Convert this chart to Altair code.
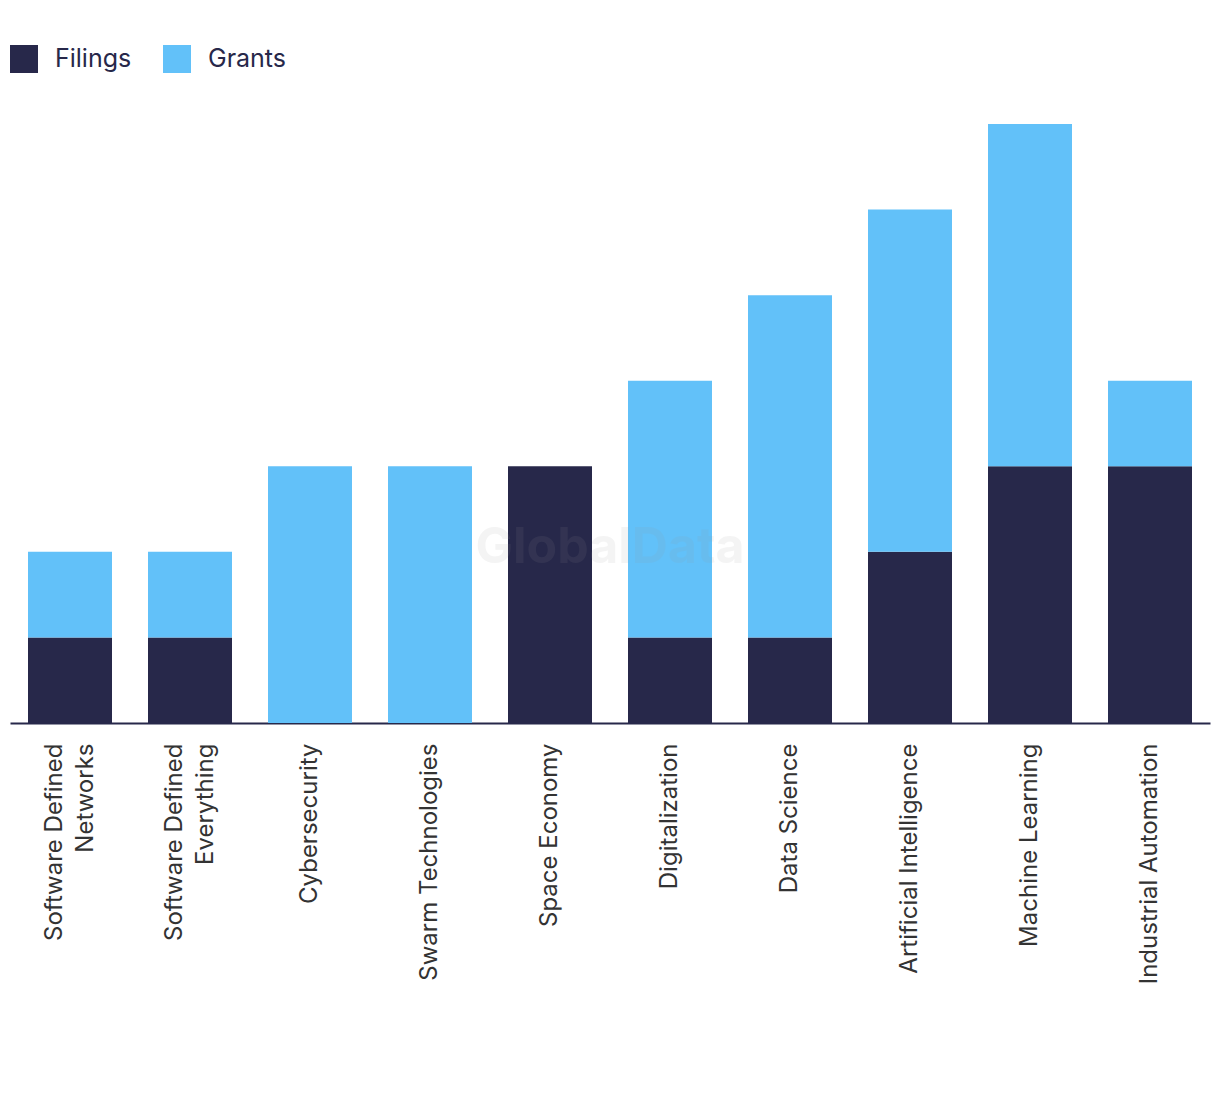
import altair as alt
import pandas as pd

categories = ["Software Defined\nNetworks", "Software Defined\nEverything", "Cybersecurity",
              "Swarm Technologies", "Space Economy", "Digitalization", "Data Science",
              "Artificial Intelligence", "Machine Learning", "Industrial Automation"]
filings = [1, 1, 0, 0, 3, 1, 1, 2, 3, 3]
grants = [1, 1, 3, 3, 0, 3, 4, 4, 4, 1]
series = ["Filings", "Grants"]
colors = ["#27284a", "#62c1f9"]

rows = []
for i, c in enumerate(categories):
    rows.append({"cat": c, "series": "Filings", "value": filings[i], "order": 0})
    rows.append({"cat": c, "series": "Grants", "value": grants[i], "order": 1})
df = pd.DataFrame(rows)

FONT = "Inter"

bars = alt.Chart(df).mark_bar().encode(
    x=alt.X("cat:N", sort=categories,
            scale=alt.Scale(paddingInner=0.3, paddingOuter=0.15),
            axis=alt.Axis(title=None, labelAngle=-90, labelAlign="right", labelBaseline="middle",
                          labelExpr="split(datum.label, '\\n')",
                          labelOffset=alt.condition("indexof(datum.value, '\\n') >= 0",
                                                    alt.value(-15), alt.value(0)),
                          ticks=False, labelPadding=20, labelFontSize=24, labelColor="#333333",
                          labelFont=FONT, domainColor="#27284a", domainWidth=2, labelLimit=400,
                          labelLineHeight=31)),
    y=alt.Y("value:Q", stack="zero", scale=alt.Scale(domain=[0, 7], nice=False),
            axis=None),
    color=alt.Color("series:N", sort=series,
                    scale=alt.Scale(domain=series, range=colors),
                    legend=alt.Legend(title=None, orient="none", legendX=0, legendY=-79,
                                      direction="horizontal", symbolType="square",
                                      symbolSize=784, symbolStrokeWidth=0, labelFontSize=25,
                                      labelFont=FONT, labelColor="#27284a", labelOffset=17,
                                      columnPadding=31, symbolOpacity=1)),
    order=alt.Order("order:Q"),
)

wm = alt.Chart(pd.DataFrame({"t": ["GlobalData"]})).mark_text(
    fontSize=50, fontWeight="bold", font=FONT, color="#999999", opacity=0.1
).encode(x=alt.value(600), y=alt.value(424), text="t:N")

chart = alt.layer(bars, wm).properties(
    width=1200, height=599,
    autosize=alt.AutoSizeParams(type="none"),
    padding={"left": 2, "top": 116, "right": 2, "bottom": 300},
).configure_view(stroke=None)

chart.save("out.html", embed_options={"renderer": "svg", "actions": False})
